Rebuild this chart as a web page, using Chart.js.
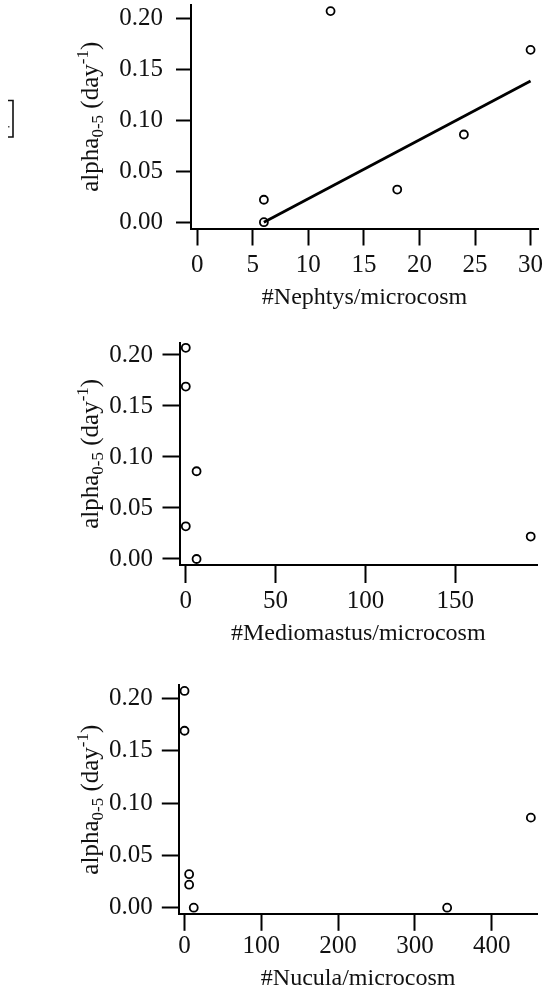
<!DOCTYPE html>
<html>
<head>
<meta charset="utf-8">
<title>alpha vs. macrofauna abundance</title>
<script src="https://cdn.jsdelivr.net/npm/chart.js@4/dist/chart.umd.min.js"></script>
<style>
  html, body { margin: 0; padding: 0; background: #fff; }
  body { width: 545px; height: 998px; position: relative; overflow: hidden; }
  .panel { position: absolute; left: 0; width: 545px; }
  canvas { display: block; }
</style>
</head>
<body>
<div class="panel" style="top:0px;height:320px"><canvas id="cNephtys" width="545" height="320"></canvas></div>
<div class="panel" style="top:320px;height:335px"><canvas id="cMediomastus" width="545" height="335"></canvas></div>
<div class="panel" style="top:655px;height:343px"><canvas id="cNucula" width="545" height="343"></canvas></div>

<script>
// ---- data ----
const nephtysCount = [6, 6, 12, 18, 24, 30];
const alphaNephtys = [0.022, 0.000, 0.207, 0.032, 0.086, 0.169];
const nephtysFitX = [6, 30];
const nephtysFitY = [0.000, 0.1385];

const mediomastusCount = [0, 0, 6, 0, 6, 192];
const alphaMediomastus = [0.207, 0.169, 0.086, 0.032, 0.000, 0.022];

const nuculaCount = [0, 0, 6, 6, 12, 342, 451];
const alphaNucula = [0.207, 0.169, 0.032, 0.022, 0.000, 0.000, 0.086];

const alphaTicks = [0, 0.05, 0.10, 0.15, 0.20];
const nephtysTicks = [0, 5, 10, 15, 20, 25, 30];
const mediomastusTicks = [0, 50, 100, 150];
const nuculaTicks = [0, 100, 200, 300, 400];

// ---- styling ----
const INK = '#111';
const SERIF = '"Liberation Serif", "Times New Roman", serif';

// Rotated y-axis title with subscript and superscript pieces.
const yTitlePlugin = {
  id: 'yTitle',
  afterDraw(chart, args, opts) {
    const { ctx, chartArea } = chart;
    const cy = (chartArea.top + chartArea.bottom) / 2;
    const parts = [
      { t: 'alpha', size: 25, dy: 0 },
      { t: '0-5', size: 17, dy: 5 },
      { t: ' (day', size: 25, dy: 0 },
      { t: '-1', size: 17, dy: -10 },
      { t: ')', size: 25, dy: 0 }
    ];
    ctx.save();
    ctx.translate(opts.x, cy);
    ctx.rotate(-Math.PI / 2);
    ctx.fillStyle = INK;
    ctx.textBaseline = 'alphabetic';
    ctx.textAlign = 'left';
    let total = 0;
    parts.forEach(p => {
      ctx.font = p.size + 'px ' + SERIF;
      p.w = ctx.measureText(p.t).width;
      total += p.w;
    });
    let x = -total / 2;
    parts.forEach(p => {
      ctx.font = p.size + 'px ' + SERIF;
      ctx.fillText(p.t, x, p.dy);
      x += p.w;
    });
    ctx.restore();
  }
};

// Small bracket mark at the left margin of the top panel.
const bracketPlugin = {
  id: 'bracket',
  afterDraw(chart, args, opts) {
    if (!opts.show) return;
    const ctx = chart.ctx;
    ctx.save();
    ctx.strokeStyle = INK;
    ctx.lineWidth = 1.6;
    ctx.beginPath();
    ctx.moveTo(8, 100.5);
    ctx.lineTo(13, 100.5);
    ctx.lineTo(13, 137);
    ctx.lineTo(8, 137);
    ctx.stroke();
    ctx.fillStyle = '#555';
    ctx.fillRect(8, 126, 1.5, 1.5);
    ctx.restore();
  }
};

function makePanel(id, p) {
  const canvas = document.getElementById(id);
  const H = canvas.height;
  const points = p.xs.map((x, i) => ({ x: x, y: p.ys[i] }));
  const datasets = [];
  if (p.fitX) {
    datasets.push({
      type: 'line',
      data: p.fitX.map((x, i) => ({ x: x, y: p.fitY[i] })),
      borderColor: '#000',
      borderWidth: 2.8,
      pointRadius: 0,
      fill: false,
      clip: false,
      order: 2
    });
  }
  datasets.push({
    type: 'scatter',
    data: points,
    pointStyle: 'circle',
    pointRadius: 4,
    pointBorderWidth: 1.8,
    pointBorderColor: '#000',
    pointBackgroundColor: 'rgba(255,255,255,0)',
    clip: false,
    order: 1
  });

  return new Chart(canvas, {
    type: 'scatter',
    data: { datasets: datasets },
    plugins: [yTitlePlugin, bracketPlugin],
    options: {
      responsive: false,
      animation: false,
      events: [],
      layout: {
        autoPadding: false,
        padding: { left: 0, right: 545 - p.right, top: p.top, bottom: 0 }
      },
      plugins: {
        legend: { display: false },
        tooltip: { enabled: false },
        yTitle: { x: 98 },
        bracket: { show: !!p.bracket }
      },
      scales: {
        x: {
          type: 'linear',
          position: 'bottom',
          min: p.xMin,
          max: p.xMax,
          afterBuildTicks: s => { s.ticks = p.xTicks.map(v => ({ value: v })); },
          afterFit: s => {
            s.height = H - p.bottom;
            s.paddingLeft = 0; s.paddingRight = 0;
          },
          border: { display: true, color: '#000', width: 2 },
          grid: {
            display: true, drawOnChartArea: false, drawTicks: true,
            tickLength: p.xTickLen, tickWidth: 2, tickColor: '#000'
          },
          ticks: {
            color: INK,
            padding: p.xPad,
            maxRotation: 0,
            autoSkip: false,
            font: { family: SERIF, size: 25, lineHeight: 1 },
            callback: v => String(v)
          },
          title: {
            display: true,
            text: p.xTitle,
            color: INK,
            font: { family: SERIF, size: 24, lineHeight: 1 },
            padding: { top: 0, bottom: p.titlePad }
          }
        },
        y: {
          type: 'linear',
          position: 'left',
          min: p.yMin,
          max: p.yMax,
          afterBuildTicks: s => { s.ticks = alphaTicks.map(v => ({ value: v })); },
          afterFit: s => {
            s.width = p.left;
            s.paddingTop = 0; s.paddingBottom = 0;
          },
          border: { display: true, color: '#000', width: 2 },
          grid: {
            display: true, drawOnChartArea: false, drawTicks: true,
            tickLength: p.yTickLen, tickWidth: 2, tickColor: '#000'
          },
          ticks: {
            color: INK,
            padding: p.yPad,
            autoSkip: false,
            font: { family: SERIF, size: 25, lineHeight: 1 },
            callback: v => Number(v).toFixed(2)
          }
        }
      }
    }
  });
}

makePanel('cNephtys', {
  xs: nephtysCount, ys: alphaNephtys,
  fitX: nephtysFitX, fitY: nephtysFitY,
  xTicks: nephtysTicks, xTitle: '#Nephtys/microcosm',
  xMin: -0.56, xMax: 30.67, yMin: -0.0062, yMax: 0.213,
  left: 191, right: 538, top: 5, bottom: 228.5,
  yTickLen: 15, yPad: 13, xTickLen: 17, xPad: 7, titlePad: 10,
  bracket: true
});

makePanel('cMediomastus', {
  xs: mediomastusCount, ys: alphaMediomastus,
  xTicks: mediomastusTicks, xTitle: '#Mediomastus/microcosm',
  xMin: -3.5, xMax: 195.5, yMin: -0.0059, yMax: 0.212,
  left: 179.5, right: 537, top: 22.7, bottom: 245,
  yTickLen: 17, yPad: 9.5, xTickLen: 18, xPad: 6.2, titlePad: 9.5
});

makePanel('cNucula', {
  xs: nuculaCount, ys: alphaNucula,
  xTicks: nuculaTicks, xTitle: '#Nucula/microcosm',
  xMin: -6.8, xMax: 459, yMin: -0.0063, yMax: 0.2127,
  left: 179.3, right: 537, top: 30, bottom: 259.3,
  yTickLen: 17.5, yPad: 9, xTickLen: 16.5, xPad: 2.7, titlePad: 7.5
});
</script>
</body>
</html>
